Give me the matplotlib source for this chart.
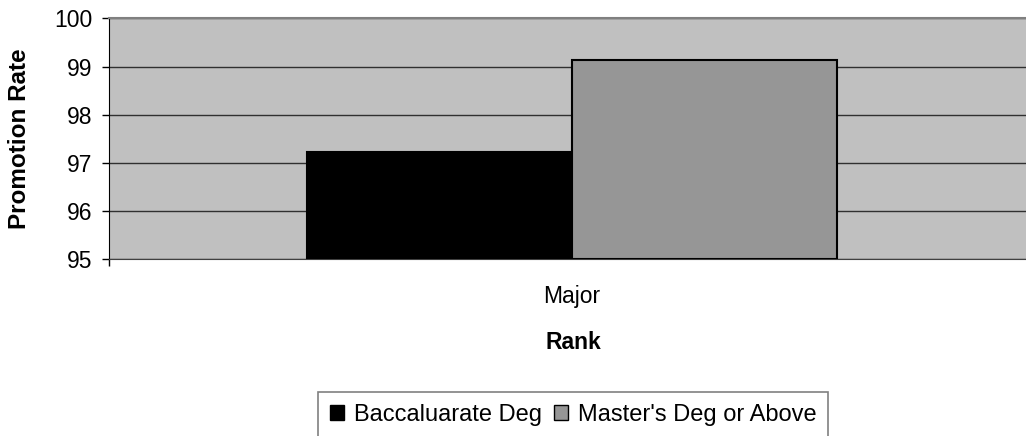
import matplotlib
matplotlib.use("Agg")
import matplotlib.pyplot as plt
from matplotlib.patches import Patch

# Data
categories = ["Major"]
series_names = ["Baccaluarate Deg", "Master's Deg or Above"]
series_values = [[97.23], [99.13]]
series_colors = ["#000000", "#969696"]
y_ticks = [95, 96, 97, 98, 99, 100]

plt.rcParams['font.family'] = ['Liberation Sans', 'DejaVu Sans']

W, H = 1026, 436
fig = plt.figure(figsize=(W / 100, H / 100), dpi=100)

# plot area in pixels (right edge runs past the image, as in the reference)
left, right, top, bottom = 109, 1035, 18.3, 259.3
ax = fig.add_axes([left / W, 1 - bottom / H, (right - left) / W, (bottom - top) / H])
ax.set_facecolor("#C0C0C0")

n = len(series_names)
width = 1 / (n + 1.5)  # Excel gap width 150%
for i, (name, vals, col) in enumerate(zip(series_names, series_values, series_colors)):
    xs = [c + (i - (n - 1) / 2) * width for c in range(len(categories))]
    ax.bar(xs, [v - y_ticks[0] for v in vals], width=width, bottom=y_ticks[0],
           color=col, edgecolor="black", linewidth=1.5, label=name, zorder=3)

ax.set_xlim(-0.5, len(categories) - 0.5)
ax.set_ylim(y_ticks[0], y_ticks[-1])
ax.set_yticks(y_ticks)
ax.yaxis.grid(True, color="#303030", linewidth=1, zorder=1)
ax.set_axisbelow(True)
# category boundary tick marks, no labels
ax.set_xticks([c - 0.5 for c in range(len(categories) + 1)])
ax.set_xticklabels([])
ax.tick_params(axis="x", direction="out", length=5, width=1, color="black")

ax.tick_params(axis="y", direction="out", length=5, width=1, color="black",
               labelsize=16.5, pad=7)
ax.spines["left"].set_color("black")
ax.spines["bottom"].set_color("#404040")
ax.spines["top"].set_color("#808080")
ax.spines["top"].set_linewidth(1.5)
ax.spines["right"].set_visible(False)

# category label and axis titles
for c, label in enumerate(categories):
    fig.text((left + (right - left) * (c + 0.5) / len(categories)) / W, 1 - 303 / H,
             label, ha="center", va="baseline", fontsize=16.5)
fig.text(573 / W, 1 - 349 / H, "Rank", ha="center", va="baseline",
         fontsize=16.5, fontweight="bold")
fig.text(20 / W, 1 - 139 / H, "Promotion Rate", ha="center",
         va="center", rotation=90, fontsize=17.5, fontweight="bold")

handles = [Patch(facecolor=c, edgecolor="black", linewidth=1) for c in series_colors]
leg = fig.legend(handles, series_names, loc="upper left",
                 bbox_to_anchor=(318 / W, 1 - 392 / H), ncol=2, fontsize=17,
                 frameon=True, fancybox=False, handlelength=0.62, handleheight=0.62,
                 handletextpad=0.4, columnspacing=0.5, borderpad=0.5,
                 borderaxespad=0)
leg.get_frame().set_edgecolor("#606060")
leg.get_frame().set_linewidth(1.2)

fig.savefig("out.png", dpi=100)
